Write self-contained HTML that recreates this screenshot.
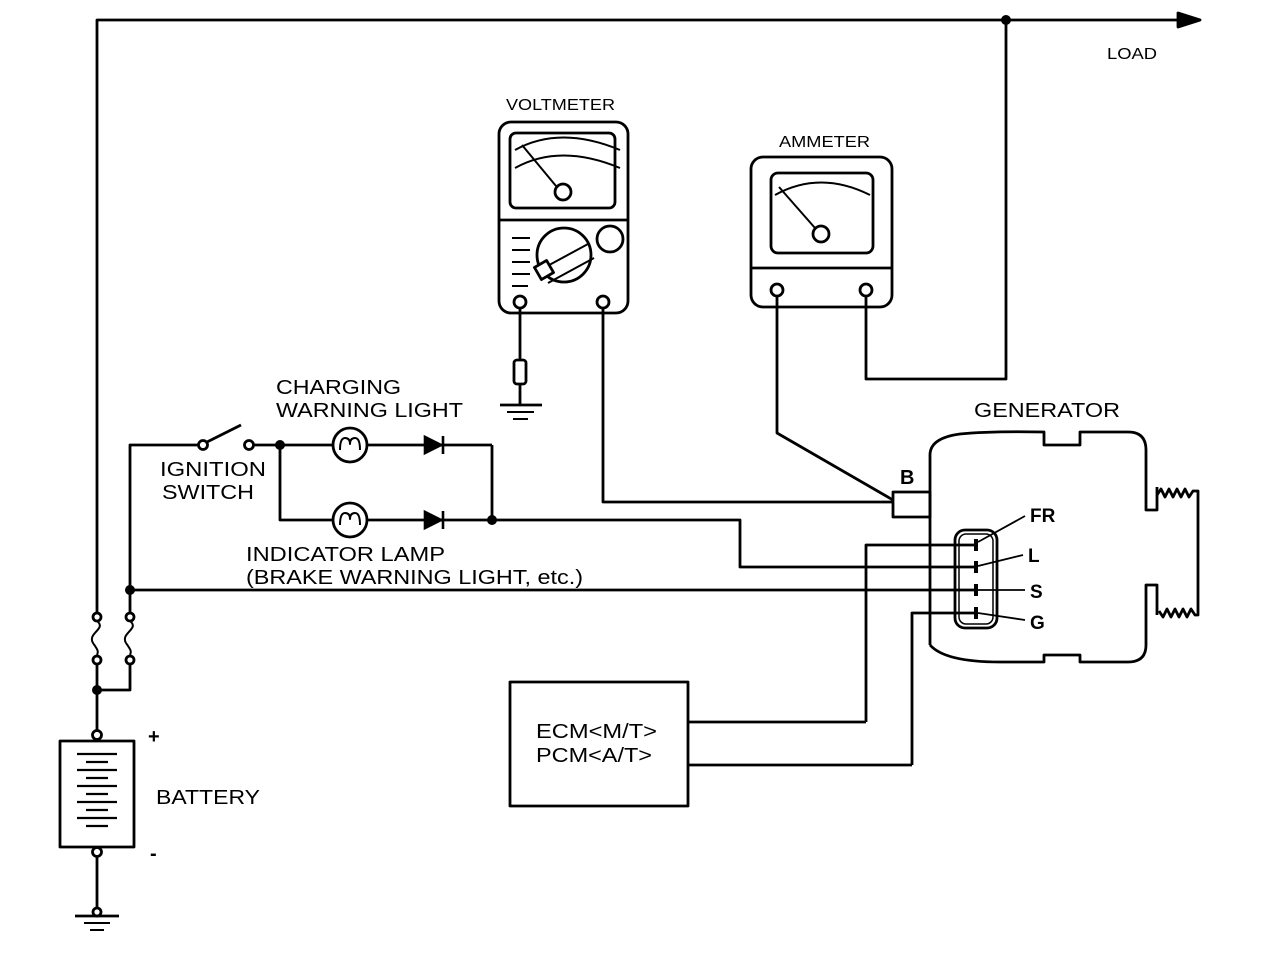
<!DOCTYPE html>
<html><head><meta charset="utf-8"><style>
html,body{margin:0;padding:0;background:#fff;width:1264px;height:962px;overflow:hidden}
text{font-family:"Liberation Sans",Arial,sans-serif;fill:#000}
</style></head><body>
<svg width="1264" height="962" viewBox="0 0 1264 962" xmlns="http://www.w3.org/2000/svg">
<g fill="none" stroke="#000" stroke-width="2.8" stroke-linejoin="round">
<polyline points="97,617 97,20 1180,20"/>
<polygon points="1178,13 1200,20 1178,27" fill="#000"/>
<polyline points="1006,20 1006,379 866,379 866,295"/>
<polyline points="130,617 130,445 198,445"/>
<circle cx="203" cy="445" r="4.5" fill="#fff"/>
<line x1="207" y1="442" x2="241" y2="425"/>
<circle cx="249" cy="445" r="4.5" fill="#fff"/>
<line x1="254" y1="445" x2="492" y2="445"/>
<polyline points="492,445 492,520"/>
<polyline points="280,445 280,520 740,520 740,567 975,567"/>
<circle cx="350" cy="445" r="17" fill="#fff"/>
<path d="M340,450 q0,-12 5,-12 q5,0 5,6 q0,-6 5,-6 q5,0 5,12" stroke-width="2"/>
<circle cx="350" cy="520" r="17" fill="#fff"/>
<path d="M340,525 q0,-12 5,-12 q5,0 5,6 q0,-6 5,-6 q5,0 5,12" stroke-width="2"/>
<line x1="130" y1="590" x2="975" y2="590"/>
<circle cx="97" cy="617" r="4" fill="#fff"/><circle cx="97" cy="660" r="4" fill="#fff"/>
<path d="M97,621 c10,8 -10,12 -4,22 c4,6 6,8 4,12" stroke-width="2"/>
<circle cx="130" cy="617" r="4" fill="#fff"/><circle cx="130" cy="660" r="4" fill="#fff"/>
<path d="M130,621 c10,8 -10,12 -4,22 c4,6 6,8 4,12" stroke-width="2"/>
<polyline points="97,664 97,730"/>
<polyline points="97,690 130,690 130,664"/>
<circle cx="97" cy="735" r="4.5" fill="#fff"/>
<rect x="60" y="741" width="74" height="106"/>
<circle cx="97" cy="852" r="4.5" fill="#fff"/>
<line x1="97" y1="857" x2="97" y2="910"/>
<circle cx="97" cy="912" r="4" fill="#fff"/>
<line x1="75" y1="916" x2="119" y2="916"/>
<line x1="84" y1="923" x2="110" y2="923" stroke-width="2"/>
<line x1="90" y1="930" x2="104" y2="930" stroke-width="2"/>
<g stroke-width="2.2">
<line x1="77" y1="754" x2="117" y2="754"/><line x1="86" y1="762" x2="108" y2="762"/>
<line x1="77" y1="770" x2="117" y2="770"/><line x1="86" y1="778" x2="108" y2="778"/>
<line x1="77" y1="786" x2="117" y2="786"/><line x1="86" y1="794" x2="108" y2="794"/>
<line x1="77" y1="802" x2="117" y2="802"/><line x1="86" y1="810" x2="108" y2="810"/>
<line x1="77" y1="818" x2="117" y2="818"/><line x1="86" y1="826" x2="108" y2="826"/>
</g>
<rect x="499" y="122" width="129" height="191" rx="12"/>
<rect x="510" y="133" width="105" height="75" rx="6"/>
<line x1="499" y1="220" x2="628" y2="220"/>
<path d="M515,150 q45,-25 105,0" stroke-width="2"/>
<path d="M515,168 q45,-25 105,0" stroke-width="2"/>
<line x1="522" y1="145" x2="556" y2="186" stroke-width="2"/>
<circle cx="563" cy="192" r="8" fill="#fff"/>
<circle cx="610" cy="239" r="13"/>
<circle cx="564" cy="255" r="27" fill="#fff"/>
<path d="M540,270 l48,-26 M548,283 l46,-25" stroke-width="2"/>
<rect x="537" y="263" width="14" height="14" transform="rotate(-30 544 270)" fill="#fff"/>
<path d="M512,238 h18 M512,250 h18 M512,262 h18 M512,274 h18 M512,286 h16" stroke-width="2"/>
<circle cx="520" cy="302" r="6" fill="#fff"/>
<circle cx="603" cy="302" r="6" fill="#fff"/>
<line x1="520" y1="308" x2="520" y2="360"/>
<rect x="514" y="360" width="12" height="24" rx="3"/>
<line x1="520" y1="384" x2="520" y2="405"/>
<line x1="500" y1="405" x2="542" y2="405"/>
<line x1="507" y1="412" x2="534" y2="412" stroke-width="2"/>
<line x1="513" y1="419" x2="528" y2="419" stroke-width="2"/>
<polyline points="603,308 603,502 893,502"/>
<rect x="751" y="157" width="141" height="150" rx="12"/>
<rect x="771" y="173" width="102" height="80" rx="7"/>
<line x1="751" y1="268" x2="892" y2="268"/>
<path d="M775,195 q45,-25 95,0" stroke-width="2"/>
<line x1="779" y1="187" x2="815" y2="228" stroke-width="2"/>
<circle cx="821" cy="234" r="8" fill="#fff"/>
<circle cx="777" cy="290" r="6" fill="#fff"/>
<circle cx="866" cy="290" r="6" fill="#fff"/>
<polyline points="777,296 777,433 893,500"/>
<rect x="893" y="492" width="37" height="25"/>
<path d="M930,645 V455 Q930,438 960,434 Q990,431 1044,432 V445 H1080 V432 H1128 Q1146,432 1146,450 V510 H1157 V487 M1157,615 V585 H1146 V645 Q1146,662 1128,662 H1080 V655 H1044 V662 H1000 Q945,662 930,645"/>
<path d="M1157,495 l4,-6 4,8 4,-8 4,8 4,-8 4,8 4,-8 4,8 4,-6 H1198 V615 H1195 l-4,-6 -4,8 -4,-8 -4,8 -4,-8 -4,8 -4,-8 -4,8 -4,-6"/>
<rect x="955" y="530" width="42" height="98" rx="10"/>
<rect x="959" y="534" width="34" height="90" rx="7" stroke-width="1.5"/>
<g stroke-width="4"><line x1="976" y1="539" x2="976" y2="551"/><line x1="976" y1="561" x2="976" y2="573"/><line x1="976" y1="584" x2="976" y2="596"/><line x1="976" y1="607" x2="976" y2="619"/></g>
<g stroke-width="1.8"><line x1="978" y1="542" x2="1025" y2="516"/><line x1="978" y1="566" x2="1023" y2="555"/><line x1="978" y1="590" x2="1025" y2="590"/><line x1="978" y1="613" x2="1025" y2="620"/></g>
<polyline points="866,722 866,545 975,545"/>
<polyline points="912,765 912,613 975,613"/>
<rect x="510" y="682" width="178" height="124"/>
<line x1="688" y1="722" x2="866" y2="722"/>
<line x1="688" y1="765" x2="912" y2="765"/>
</g>
<g fill="#000" stroke="#000" stroke-width="2.6">
<polygon points="425,437 425,453 441,445"/><line x1="443" y1="436" x2="443" y2="454"/>
<polygon points="425,512 425,528 441,520"/><line x1="443" y1="511" x2="443" y2="529"/>
</g>
<g fill="#000">
<circle cx="1006" cy="20" r="5"/><circle cx="280" cy="445" r="5"/><circle cx="492" cy="520" r="5"/>
<circle cx="130" cy="590" r="5"/><circle cx="97" cy="690" r="5"/>
</g>
<g lengthAdjust="spacingAndGlyphs">
<text x="1107" y="59" font-size="16" textLength="50" lengthAdjust="spacingAndGlyphs">LOAD</text>
<text x="506" y="110" font-size="16" textLength="109" lengthAdjust="spacingAndGlyphs">VOLTMETER</text>
<text x="779" y="147" font-size="16" textLength="91" lengthAdjust="spacingAndGlyphs">AMMETER</text>
<text x="276" y="394" font-size="20" textLength="125" lengthAdjust="spacingAndGlyphs">CHARGING</text>
<text x="276" y="417" font-size="20" textLength="187" lengthAdjust="spacingAndGlyphs">WARNING LIGHT</text>
<text x="974" y="417" font-size="20" textLength="146" lengthAdjust="spacingAndGlyphs">GENERATOR</text>
<text x="160" y="476" font-size="20" textLength="106" lengthAdjust="spacingAndGlyphs">IGNITION</text>
<text x="162" y="499" font-size="20" textLength="92" lengthAdjust="spacingAndGlyphs">SWITCH</text>
<text x="246" y="561" font-size="20" textLength="199" lengthAdjust="spacingAndGlyphs">INDICATOR LAMP</text>
<text x="246" y="584" font-size="20" textLength="337" lengthAdjust="spacingAndGlyphs">(BRAKE WARNING LIGHT, etc.)</text>
<text x="900" y="484" font-size="20" font-weight="bold">B</text>
<text x="1030" y="522" font-size="19" font-weight="bold">FR</text>
<text x="1028" y="562" font-size="19" font-weight="bold">L</text>
<text x="1030" y="598" font-size="19" font-weight="bold">S</text>
<text x="1030" y="629" font-size="19" font-weight="bold">G</text>
<text x="148" y="743" font-size="20" font-weight="bold">+</text>
<text x="150" y="860" font-size="20" font-weight="bold">-</text>
<text x="156" y="804" font-size="20" textLength="104" lengthAdjust="spacingAndGlyphs">BATTERY</text>
<text x="536" y="738" font-size="20" textLength="121" lengthAdjust="spacingAndGlyphs">ECM&lt;M/T&gt;</text>
<text x="536" y="762" font-size="20" textLength="116" lengthAdjust="spacingAndGlyphs">PCM&lt;A/T&gt;</text>
</g>
</svg>
</body></html>
